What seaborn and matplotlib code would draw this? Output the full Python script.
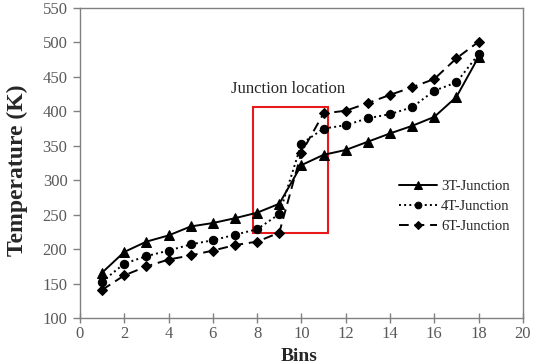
import matplotlib
matplotlib.use("Agg")
import matplotlib.pyplot as plt
import seaborn as sns
import pandas as pd
from matplotlib.patches import Rectangle

bins = list(range(1, 19))
t3 = [166, 196, 211, 220, 233, 238, 245, 253, 266, 322, 337, 344, 356, 368, 379, 392, 421, 479]
t4 = [153, 179, 190, 198, 207, 213, 221, 229, 251, 353, 375, 380, 390, 396, 406, 430, 442, 483]
t6 = [141, 162, 175, 185, 191, 198, 206, 211, 224, 340, 397, 401, 412, 424, 435, 447, 477, 501]
labels = ["3T-Junction", "4T-Junction", "6T-Junction"]

sns.set_theme(style="white")
plt.rcParams['font.family'] = ['Liberation Serif', 'DejaVu Serif']

fig = plt.figure(figsize=(5.33, 3.64), dpi=100)
ax = fig.add_axes([0.150, 0.126, 0.831, 0.852])

styles = [("^", "-", 7), ("o", ":", 6), ("D", (0, (5, 3)), 5)]
for vals, lab, (mk, ls, ms) in zip([t3, t4, t6], labels, styles):
    df = pd.DataFrame({"Bins": bins, "T": vals})
    sns.lineplot(data=df, x="Bins", y="T", ax=ax, color="black", marker=mk,
                 markersize=ms, linestyle=ls, linewidth=1.4, label=lab,
                 markeredgecolor="black")

ax.add_patch(Rectangle((7.8, 224), 3.4, 182, fill=False, edgecolor="#e8191a", linewidth=1.5))
ax.text(9.4, 433, "Junction location", ha="center", va="center", fontsize=12)

ax.set_xlim(0, 20)
ax.set_ylim(100, 550)
ax.set_xticks(range(0, 21, 2))
ax.set_yticks(range(100, 551, 50))
ax.tick_params(axis="both", labelsize=12, width=1, color="#808080", labelcolor="#595959",
               bottom=True, left=True)
ax.tick_params(axis="x", direction="inout", length=7, pad=2)
ax.tick_params(axis="y", direction="out", length=5, pad=4)
for s in ax.spines.values():
    s.set_color("#808080")
    s.set_linewidth(1)
ax.set_xlabel("Bins", fontsize=14, fontweight="bold")
ax.xaxis.set_label_coords(0.494, -0.097)
ax.set_ylabel("Temperature (K)", fontsize=17, fontweight="bold")
ax.yaxis.set_label_coords(-0.118, 0.477)

leg = ax.legend(loc="center left", bbox_to_anchor=(0.69, 0.36), frameon=False,
                fontsize=10.5, handlelength=2.6, handletextpad=0.3, labelspacing=0.45,
                markerscale=0.8)

fig.savefig("out.png", dpi=100)
